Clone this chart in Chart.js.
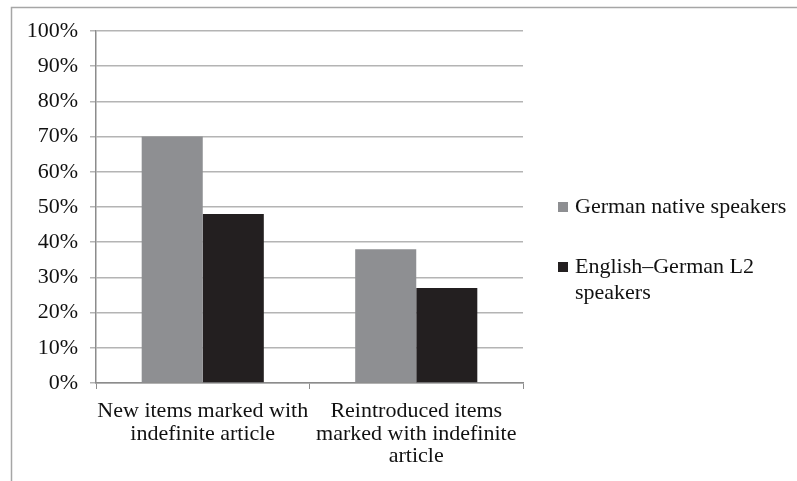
<!DOCTYPE html>
<html>
<head>
<meta charset="utf-8">
<script src="https://cdn.jsdelivr.net/npm/chart.js@4"></script>
<style>
  html, body { margin: 0; padding: 0; background: #fff; }
  #wrap { position: relative; width: 797px; height: 481px; }
</style>
</head>
<body>
<div id="wrap"><canvas id="c" width="797" height="481"></canvas></div>
<script>
const categories = [
  ["New items marked with", "indefinite article"],
  ["Reintroduced items", "marked with indefinite", "article"]
];
const seriesNames = ["German native speakers", "English\u2013German L2 speakers"];
const legendLines = [["German native speakers"], ["English\u2013German L2", "speakers"]];
const nativeValues = [70, 38];
const l2Values = [48, 27];
const seriesColors = ["#8e8f92", "#231f20"];

const FONT = "'Liberation Serif', 'Times New Roman', serif";

const framePlugin = {
  id: 'frame',
  beforeDraw(chart) {
    const ctx = chart.ctx;
    ctx.save();
    ctx.strokeStyle = '#a6a6a6';
    ctx.lineWidth = 1.5;
    ctx.beginPath();
    ctx.moveTo(11.5, 481);
    ctx.lineTo(11.5, 7.5);
    ctx.lineTo(797, 7.5);
    ctx.stroke();
    ctx.restore();
  }
};

const legendPlugin = {
  id: 'customLegend',
  afterDraw(chart) {
    const ctx = chart.ctx;
    ctx.save();
    ctx.font = "22px " + FONT;
    ctx.textBaseline = 'middle';
    ctx.textAlign = 'left';
    const x = 558;
    const starts = [207, 267];
    const lh = 26;
    chart.data.datasets.forEach((ds, i) => {
      const y0 = starts[i];
      ctx.fillStyle = ds.backgroundColor;
      ctx.fillRect(x, y0 - 5, 10, 10);
      ctx.fillStyle = '#111';
      legendLines[i].forEach((t, j) => {
        ctx.fillText(t, x + 17, y0 + j * lh);
      });
    });
    ctx.restore();
  }
};

new Chart(document.getElementById('c'), {
  type: 'bar',
  data: {
    labels: categories,
    datasets: [
      { label: seriesNames[0], data: nativeValues, backgroundColor: seriesColors[0] },
      { label: seriesNames[1], data: l2Values, backgroundColor: seriesColors[1] }
    ]
  },
  options: {
    responsive: false,
    animation: false,
    devicePixelRatio: 1,
    layout: { padding: { left: 20, right: 274, top: 31, bottom: 0 } },
    datasets: { bar: { categoryPercentage: 0.572, barPercentage: 1.0 } },
    plugins: {
      legend: { display: false },
      tooltip: { enabled: false }
    },
    scales: {
      x: {
        grid: { display: true, drawOnChartArea: false, drawTicks: true, tickLength: 6, color: '#8c8c8c', offset: true },
        border: { display: true, color: '#8c8c8c', width: 1.5 },
        ticks: {
          color: '#111',
          font: { family: FONT, size: 22, lineHeight: 1.03 },
          padding: 11,
          maxRotation: 0,
          autoSkip: false
        },
        afterFit(scale) { scale.height = 98; }
      },
      y: {
        min: 0,
        max: 100,
        grid: { color: '#b4b4b4', lineWidth: 1.5, tickLength: 6, drawTicks: true },
        border: { display: true, color: '#8c8c8c', width: 1.5 },
        ticks: {
          stepSize: 10,
          color: '#111',
          font: { family: FONT, size: 22 },
          padding: 12,
          callback: v => v + '%'
        },
        afterFit(scale) { scale.width = 76; }
      }
    }
  },
  plugins: [framePlugin, legendPlugin]
});
</script>
</body>
</html>
